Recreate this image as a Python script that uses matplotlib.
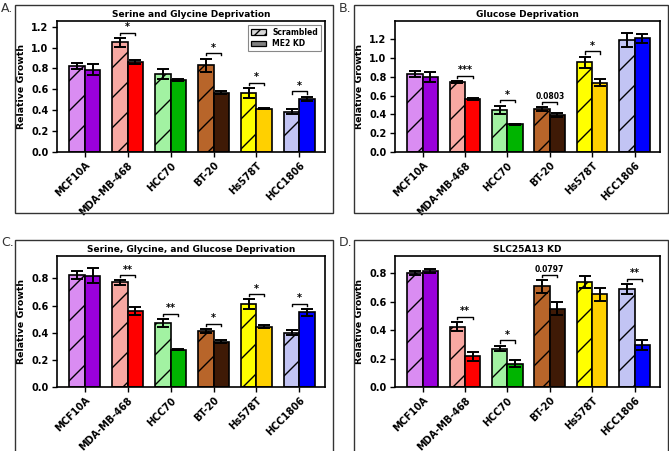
import numpy as np
import matplotlib.pyplot as plt
from matplotlib.patches import Patch, Rectangle

DPI = 90
S = 100 / DPI  # keep pixel sizes as if drawn at 100 dpi, hatch gets a bit denser

plt.rcParams['font.family'] = 'DejaVu Sans'
plt.rcParams['font.weight'] = 'bold'
plt.rcParams['hatch.linewidth'] = 1.0 * S

cell_lines = ['MCF10A', 'MDA-MB-468', 'HCC70', 'BT-20', 'Hs578T', 'HCC1806']
scr_colors = ['#da8cf2', '#f8a8a2', '#a2f2a2', '#b8652a', '#ffff00', '#c2c4f4']
kd_colors = ['#9a00dc', '#ff0000', '#00b400', '#3f1a06', '#ffd000', '#0000ff']

# panel A: serine and glycine deprivation
a_scr = [0.825, 1.05, 0.745, 0.83, 0.565, 0.385]
a_scr_err = [0.03, 0.04, 0.05, 0.065, 0.05, 0.025]
a_kd = [0.79, 0.86, 0.69, 0.57, 0.415, 0.51]
a_kd_err = [0.05, 0.02, 0.01, 0.015, 0.005, 0.02]
a_sig = {1: '*', 3: '*', 4: '*', 5: '*'}

# panel B: glucose deprivation
b_scr = [0.83, 0.745, 0.45, 0.46, 0.955, 1.19]
b_scr_err = [0.035, 0.008, 0.045, 0.02, 0.06, 0.075]
b_kd = [0.80, 0.565, 0.295, 0.395, 0.74, 1.21]
b_kd_err = [0.05, 0.008, 0.005, 0.02, 0.035, 0.05]
b_sig = {1: '***', 2: '*', 3: '0.0803', 4: '*'}

# panel C: serine, glycine and glucose deprivation
c_scr = [0.825, 0.77, 0.47, 0.41, 0.61, 0.40]
c_scr_err = [0.03, 0.015, 0.03, 0.015, 0.035, 0.02]
c_kd = [0.82, 0.56, 0.275, 0.335, 0.445, 0.55]
c_kd_err = [0.055, 0.03, 0.003, 0.01, 0.01, 0.025]
c_sig = {1: '**', 2: '**', 3: '*', 4: '*', 5: '*'}

# panel D: SLC25A13 KD
d_scr = [0.80, 0.424, 0.27, 0.707, 0.737, 0.69]
d_scr_err = [0.015, 0.03, 0.02, 0.045, 0.045, 0.035]
d_kd = [0.817, 0.215, 0.164, 0.55, 0.65, 0.293]
d_kd_err = [0.015, 0.03, 0.025, 0.045, 0.045, 0.035]
d_sig = {1: '**', 2: '*', 3: '0.0797', 5: '**'}

W, H = 669, 451
fig = plt.figure(figsize=(W / DPI, H / DPI), dpi=DPI)
FS = 6.5 * S
TICK_FS = 7 * S


def px_rect(l, t, r, b):
    return [l / W, 1 - b / H, (r - l) / W, (b - t) / H]


def draw_panel(rect, title, scr, scr_err, kd, kd_err, sig, ymax, ticks, legend=False):
    ax = fig.add_axes(px_rect(*rect))
    x = np.arange(len(cell_lines))
    w = 0.36
    ax.bar(x - w / 2, scr, w, color=scr_colors, edgecolor='k', linewidth=1.2 * S,
           hatch='/', zorder=2)
    ax.bar(x + w / 2, kd, w, color=kd_colors, edgecolor='k', linewidth=1.2 * S, zorder=2)
    ax.errorbar(x - w / 2, scr, yerr=scr_err, fmt='none', ecolor='k',
                elinewidth=1.4 * S, capsize=4 * S, capthick=1.4 * S, zorder=3)
    ax.errorbar(x + w / 2, kd, yerr=kd_err, fmt='none', ecolor='k',
                elinewidth=1.4 * S, capsize=4 * S, capthick=1.4 * S, zorder=3)
    for i, lab in sig.items():
        top = max(scr[i] + scr_err[i], kd[i] + kd_err[i])
        y = top + 0.05 * ymax / 1.25
        hk = 0.02 * ymax / 1.25
        ax.plot([x[i] - w / 2, x[i] - w / 2, x[i] + w / 2, x[i] + w / 2],
                [y - hk, y, y, y - hk], color='k', lw=1.0 * S)
        fs = (5.5 if lab[0].isdigit() else 7) * S
        ax.text(x[i], y + 0.005 * ymax, lab, ha='center', va='bottom',
                fontsize=fs, fontweight='bold')
    ax.set_xlim(-0.65, 5.6)
    ax.set_ylim(0, ymax)
    ax.set_yticks(ticks)
    ax.set_yticklabels(['%.1f' % t for t in ticks])
    ax.set_xticks(x)
    ax.set_xticklabels(cell_lines, rotation=45, ha='right', rotation_mode='anchor')
    ax.tick_params(labelsize=TICK_FS, length=3.5 * S, width=1 * S, pad=2.5 * S)
    for lbl in ax.get_xticklabels() + ax.get_yticklabels():
        lbl.set_fontweight('bold')
    for s in ax.spines.values():
        s.set_linewidth(1.2 * S)
    ax.set_ylabel('Relative Growth', fontsize=6.8 * S, fontweight='bold', labelpad=4 * S)
    ax.set_title(title, fontsize=FS, fontweight='bold', pad=3 * S)
    if legend:
        handles = [Patch(facecolor='#d8d8d8', edgecolor='k', hatch='///', label='Scrambled'),
                   Patch(facecolor='#808080', edgecolor='k', label='ME2 KD')]
        leg = ax.legend(handles=handles, loc='upper right',
                        prop={'weight': 'bold', 'size': 5.5 * S}, handlelength=2,
                        handleheight=0.8, borderpad=0.4, labelspacing=0.3,
                        fancybox=False, edgecolor='#888888', framealpha=1)
        leg.get_frame().set_linewidth(0.8 * S)
    return ax


# outer frames and panel letters
for l, t, r, b in [(15, 5, 333, 213), (354, 5, 668, 213),
                   (15, 240, 333, 452), (354, 240, 668, 452)]:
    fig.add_artist(Rectangle((l / W, 1 - b / H), (r - l) / W, (b - t) / H,
                             transform=fig.transFigure, fill=False,
                             edgecolor='#333333', linewidth=1.0 * S))
for lab, px, py in [('A.', 1, 8), ('B.', 339, 8), ('C.', 1, 243), ('D.', 339, 243)]:
    fig.text(px / W, 1 - py / H, lab, fontsize=9 * S, fontweight='normal',
             color='#333333', va='center', ha='left')

draw_panel((57, 21, 325, 152), 'Serine and Glycine Deprivation',
           a_scr, a_scr_err, a_kd, a_kd_err, a_sig, 1.255,
           [0.0, 0.2, 0.4, 0.6, 0.8, 1.0, 1.2], legend=True)
draw_panel((395, 21, 660, 152), 'Glucose Deprivation',
           b_scr, b_scr_err, b_kd, b_kd_err, b_sig, 1.395,
           [0.0, 0.2, 0.4, 0.6, 0.8, 1.0, 1.2])
draw_panel((57, 256, 325, 387), 'Serine, Glycine, and Glucose Deprivation',
           c_scr, c_scr_err, c_kd, c_kd_err, c_sig, 0.965,
           [0.0, 0.2, 0.4, 0.6, 0.8])
draw_panel((395, 256, 660, 387), 'SLC25A13 KD',
           d_scr, d_scr_err, d_kd, d_kd_err, d_sig, 0.92,
           [0.0, 0.2, 0.4, 0.6, 0.8])

fig.savefig('out.png', dpi=DPI)
